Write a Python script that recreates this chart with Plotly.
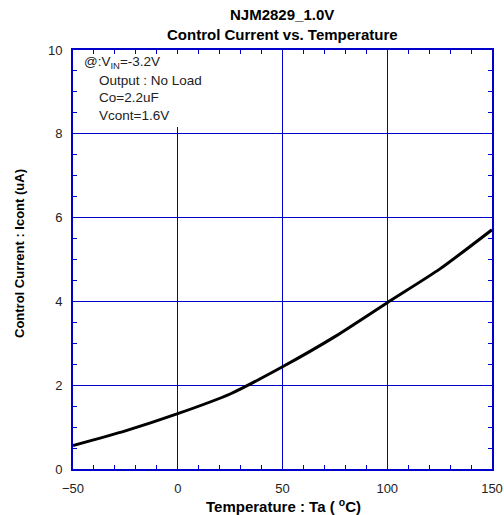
import plotly.graph_objects as go

temps = [-50, -25, 0, 25, 50, 75, 100, 125, 150]
icont = [0.56, 0.91, 1.32, 1.79, 2.44, 3.16, 3.97, 4.77, 5.71]

x_ticks = [-50, 0, 50, 100, 150]
y_ticks = [0, 2, 4, 6, 8, 10]

title_lines = ["NJM2829_1.0V", "Control Current vs. Temperature"]
x_title = "Temperature : Ta ( <sup>o</sup>C)"
y_title = "Control Current : Icont (uA)"
cond_lines = ["@:V<sub>IN</sub>=-3.2V", "Output : No Load", "Co=2.2uF", "Vcont=1.6V"]

BLUE = "#0000CC"
FONT = "Liberation Sans, Arial, sans-serif"

fig = go.Figure()
fig.add_trace(go.Scatter(x=temps, y=icont, mode="lines",
                         line=dict(color="black", width=3, shape="spline", smoothing=0.6),
                         showlegend=False, hoverinfo="skip"))

axis_common = dict(
    showline=True, linecolor=BLUE, linewidth=2, mirror="allticks",
    showgrid=True, gridcolor=BLUE, gridwidth=1.2,
    ticks="inside", ticklen=4, tickcolor=BLUE, tickwidth=1,
    zeroline=False, automargin=False,
    tickfont=dict(family=FONT, size=13, color="#222"),
)

fig.update_xaxes(range=[-50, 150], tickvals=x_ticks, ticklabelstandoff=6, **axis_common,
                 minor=dict(dtick=10, ticks="inside", ticklen=4, tickcolor=BLUE, showgrid=False))
fig.update_yaxes(range=[0, 10], tickvals=y_ticks, ticklabelstandoff=6, **axis_common,
                 minor=dict(dtick=0.5, ticks="inside", ticklen=4, tickcolor=BLUE, showgrid=False))

# white box behind conditions text (covers grid)
fig.add_shape(type="rect", xref="x", yref="y", x0=-49.5, x1=14, y0=8.16, y1=9.95,
              fillcolor="white", line=dict(width=0), layer="between")

fig.update_layout(
    width=504, height=515,
    margin=dict(l=73, r=12, t=50, b=46, autoexpand=False),
    paper_bgcolor="white", plot_bgcolor="white",
    font=dict(family=FONT, color="black"),
)

H = 515 - 50 - 46
W = 504 - 73 - 12

def px_to_paper_y(py):
    return (469 - py) / H

def px_to_paper_x(px):
    return (px - 73) / W

fig.add_annotation(text="<b>" + title_lines[0] + "</b>", x=px_to_paper_x(282), y=px_to_paper_y(15),
                   xref="paper", yref="paper", showarrow=False, font=dict(size=15, family=FONT),
                   xanchor="center", yanchor="middle")
fig.add_annotation(text="<b>" + title_lines[1] + "</b>", x=px_to_paper_x(282), y=px_to_paper_y(34),
                   xref="paper", yref="paper", showarrow=False, font=dict(size=15, family=FONT),
                   xanchor="center", yanchor="middle")
fig.add_annotation(text="<b>" + x_title + "</b>", x=px_to_paper_x(283), y=px_to_paper_y(505),
                   xref="paper", yref="paper", showarrow=False, font=dict(size=15, family=FONT),
                   xanchor="center", yanchor="middle")
fig.add_annotation(text="<b>" + y_title + "</b>", x=px_to_paper_x(19), y=px_to_paper_y(254),
                   xref="paper", yref="paper", showarrow=False, font=dict(size=13, family=FONT),
                   textangle=-90, xanchor="center", yanchor="middle")

cond_pos = [(82, 63), (97, 80), (97, 97), (97, 115)]
for t, (px, py) in zip(cond_lines, cond_pos):
    fig.add_annotation(text=t, x=px_to_paper_x(px), y=px_to_paper_y(py), xref="paper", yref="paper",
                       showarrow=False, font=dict(size=13.5, family=FONT, color="#222"),
                       xanchor="left", yanchor="middle")

fig.write_html("out.html")
